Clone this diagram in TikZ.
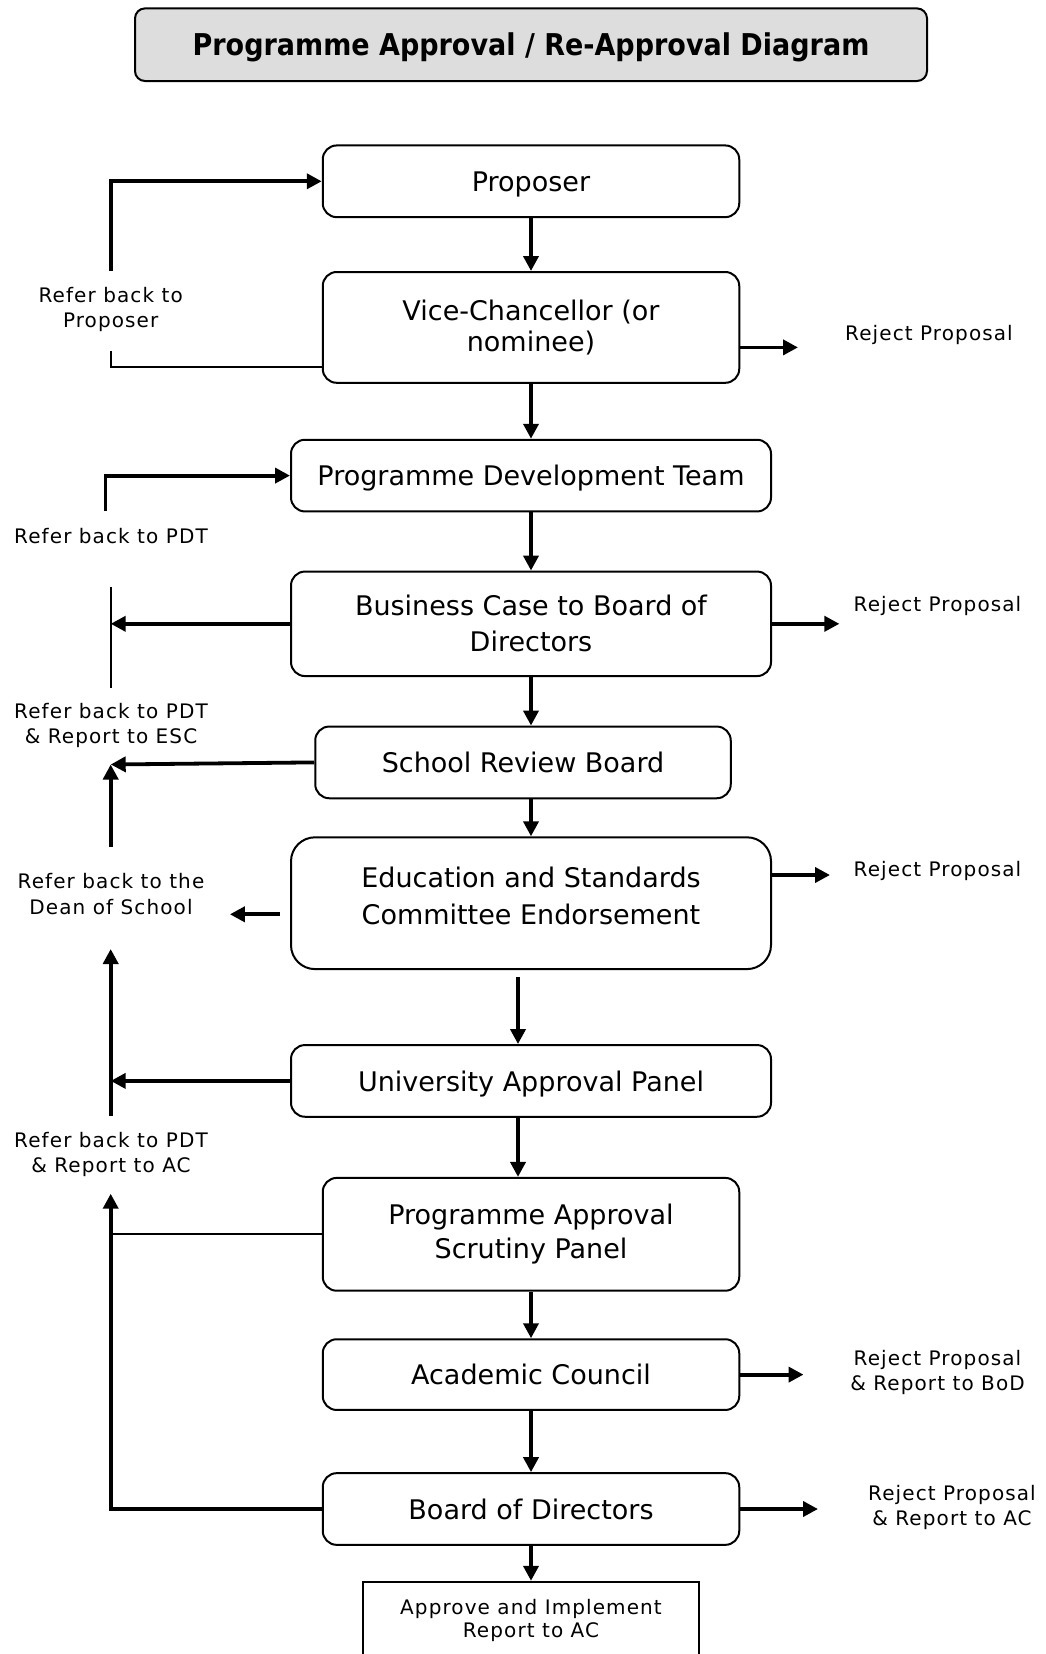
\documentclass[tikz,border=0pt]{standalone}
\usepackage{fontspec}
\setmainfont{DejaVu Sans}
\newfontfamily\titlefont[FakeStretch=0.9]{DejaVu Sans}
\newfontfamily\notefont[LetterSpace=5.5]{DejaVu Sans}
\usetikzlibrary{arrows.meta}
\definecolor{titlegray}{RGB}{221,221,221}

\begin{document}
\begin{tikzpicture}[x=1pt, y=-1pt,
		stage/.style={rectangle, rounded corners=14pt, draw=black, line width=2pt,
			align=center, font=\fontsize{27}{31.6}\selectfont},
		note/.style={align=center, font=\notefont\fontsize{20}{25.3}\selectfont},
		flow/.style={line width=3.8pt, -{Triangle[length=15pt,width=15pt]}},
		link/.style={line width=2pt}]
			\useasboundingbox (0,0) rectangle (1045,1654);
			\node (title) at (531,44.7) [rectangle, rounded corners=10pt, draw=black,
			line width=2pt, fill=titlegray, minimum width=792, minimum height=72.6,
			text height=21.5pt, text depth=0pt,
			font=\titlefont\bfseries\fontsize{30}{34}\selectfont]
			{Programme Approval / Re-Approval Diagram};
			\node (prop) at (531,181.3) [stage, text depth=0pt, minimum width=416.5,
			minimum height=71.7] {Proposer};
			\node (vc) at (531,327.4) [stage, minimum width=416.5, minimum height=110.8]
			{Vice-Chancellor (or\\nominee)};
			\node (pdt) at (531,475.6) [stage, text depth=0pt, minimum width=480,
			minimum height=71.7] {Programme Development Team};
			\node (bc) at (531,623.8) [stage, minimum width=480, minimum height=104.5,
			font=\fontsize{27}{36}\selectfont] {Business Case to Board of\\Directors};
			\node (srb) at (523,762.4) [stage, minimum width=415.5, minimum height=71.7]
			{School Review Board};
			\node (esc) at (531,903.2) [stage, rounded corners=24pt, minimum width=480,
			minimum height=131.8, text depth=14pt, font=\fontsize{27}{37}\selectfont]
			{Education and Standards\\Committee Endorsement};
			\node (uap) at (531,1080.9) [stage, text depth=0pt, minimum width=480,
			minimum height=71.7] {University Approval Panel};
			\node (pasp) at (531,1234.3) [stage, minimum width=416.5, minimum height=112.8,
			font=\fontsize{27}{33.7}\selectfont] {Programme Approval\\Scrutiny Panel};
			\node (ac) at (531,1374.6) [stage, minimum width=416.5, minimum height=70.7]
			{Academic Council};
			\node (bod) at (531,1509) [stage, minimum width=416.5, minimum height=71.7]
			{Board of Directors};
			\node (appr) at (531,1620) [rectangle, draw=black, line width=2pt,
			minimum width=336.4, minimum height=76.4, align=center,
			font=\notefont\fontsize{20}{23}\selectfont] {Approve and Implement\\Report to AC};
			\node (lprop) at (110.7,309.5) [note] {Refer back to\\Proposer};
			\node (lpdt) at (111,535.7) [note] {Refer back to PDT};
			\node (lesc) at (111,725.5) [note] {Refer back to PDT\\\& Report to ESC};
			\node (ldean) at (111,894) [note] {Refer back to the\\Dean of School};
			\node (lac) at (111,1154.7) [note] {Refer back to PDT\\\& Report to AC};
			\node (rvc) at (929,335.3) [note] {Reject Proposal};
			\node (rbc) at (937.5,606.3) [note] {Reject Proposal};
			\node (resc) at (937.5,871) [note] {Reject Proposal};
			\node (rac) at (937.5,1372.8) [note] {Reject Proposal\\\& Report to BoD};
			\node (rbod) at (952,1507.3) [note] {Reject Proposal\\\& Report to AC};
			\coordinate (propfoot) at (110.7,271);
			\coordinate (vcfoot) at (110.7,351);
			\coordinate (pdtfoot) at (105.5,511);
			\coordinate (bartop) at (110.7,587);
			\coordinate (barbot) at (110.7,687.5);
			\coordinate (srbend) at (110.7,764.5);
			\coordinate (escfoot) at (110.7,847);
			\coordinate (deantip) at (229.9,914.3);
			\coordinate (uapfoot) at (110.7,1115.7);
			\coordinate (deanhead) at (110.7,949);
			\coordinate (achead) at (110.7,1193.7);
			\coordinate (vcrej) at (798,347.4);
			\coordinate (bcrej) at (839.4,623.8);
			\coordinate (escrej) at (830,875);
			\coordinate (acrej) at (803.5,1374.6);
			\coordinate (bodrej) at (818,1509);
			\draw [flow] (prop) -- (vc);
			\draw [flow] (vc) -- (pdt);
			\draw [flow] (pdt) -- (bc);
			\draw [flow] (bc.south) -- (bc.south |- srb.north);
			\draw [flow] (esc.north |- srb.south) -- (esc.north);
			\draw [flow, shorten <=7pt] ([xshift=-13pt]esc.south) -- ([xshift=-13pt]uap.north);
			\draw [flow] ([xshift=-13pt]uap.south) -- ([xshift=-13pt]pasp.north);
			\draw [flow] (pasp) -- (ac);
			\draw [flow] (ac) -- (bod);
			\draw [flow] (bod) -- (appr);
			\draw [flow] (propfoot) |- (prop.west);
			\draw [link] ([yshift=-40pt]vc.west) -| (vcfoot);
			\draw [flow] (pdtfoot) |- (pdt.west);
			\draw [link] (bartop) -- (barbot);
			\draw [flow] (bc.west) -- (bc.west -| bartop);
			\draw [flow] (srb.west) -- (srbend);
			\draw [flow] (escfoot) -- (srbend);
			\draw [flow, shorten <=10pt] (esc.west |- deantip) -- (deantip);
			\draw [flow] (uapfoot) -- (deanhead);
			\draw [flow] (uap.west) -- (uap.west -| deanhead);
			\draw [link] (pasp.west) -- (pasp.west -| achead);
			\draw [flow] (bod.west) -| (achead);
			\draw [flow] (vc.east |- vcrej) -- (vcrej);
			\draw [flow] (bc.east) -- (bcrej);
			\draw [flow] (esc.east |- escrej) -- (escrej);
			\draw [flow] (ac.east) -- (acrej);
			\draw [flow] (bod.east) -- (bodrej);
		\end{tikzpicture}
\end{document}
